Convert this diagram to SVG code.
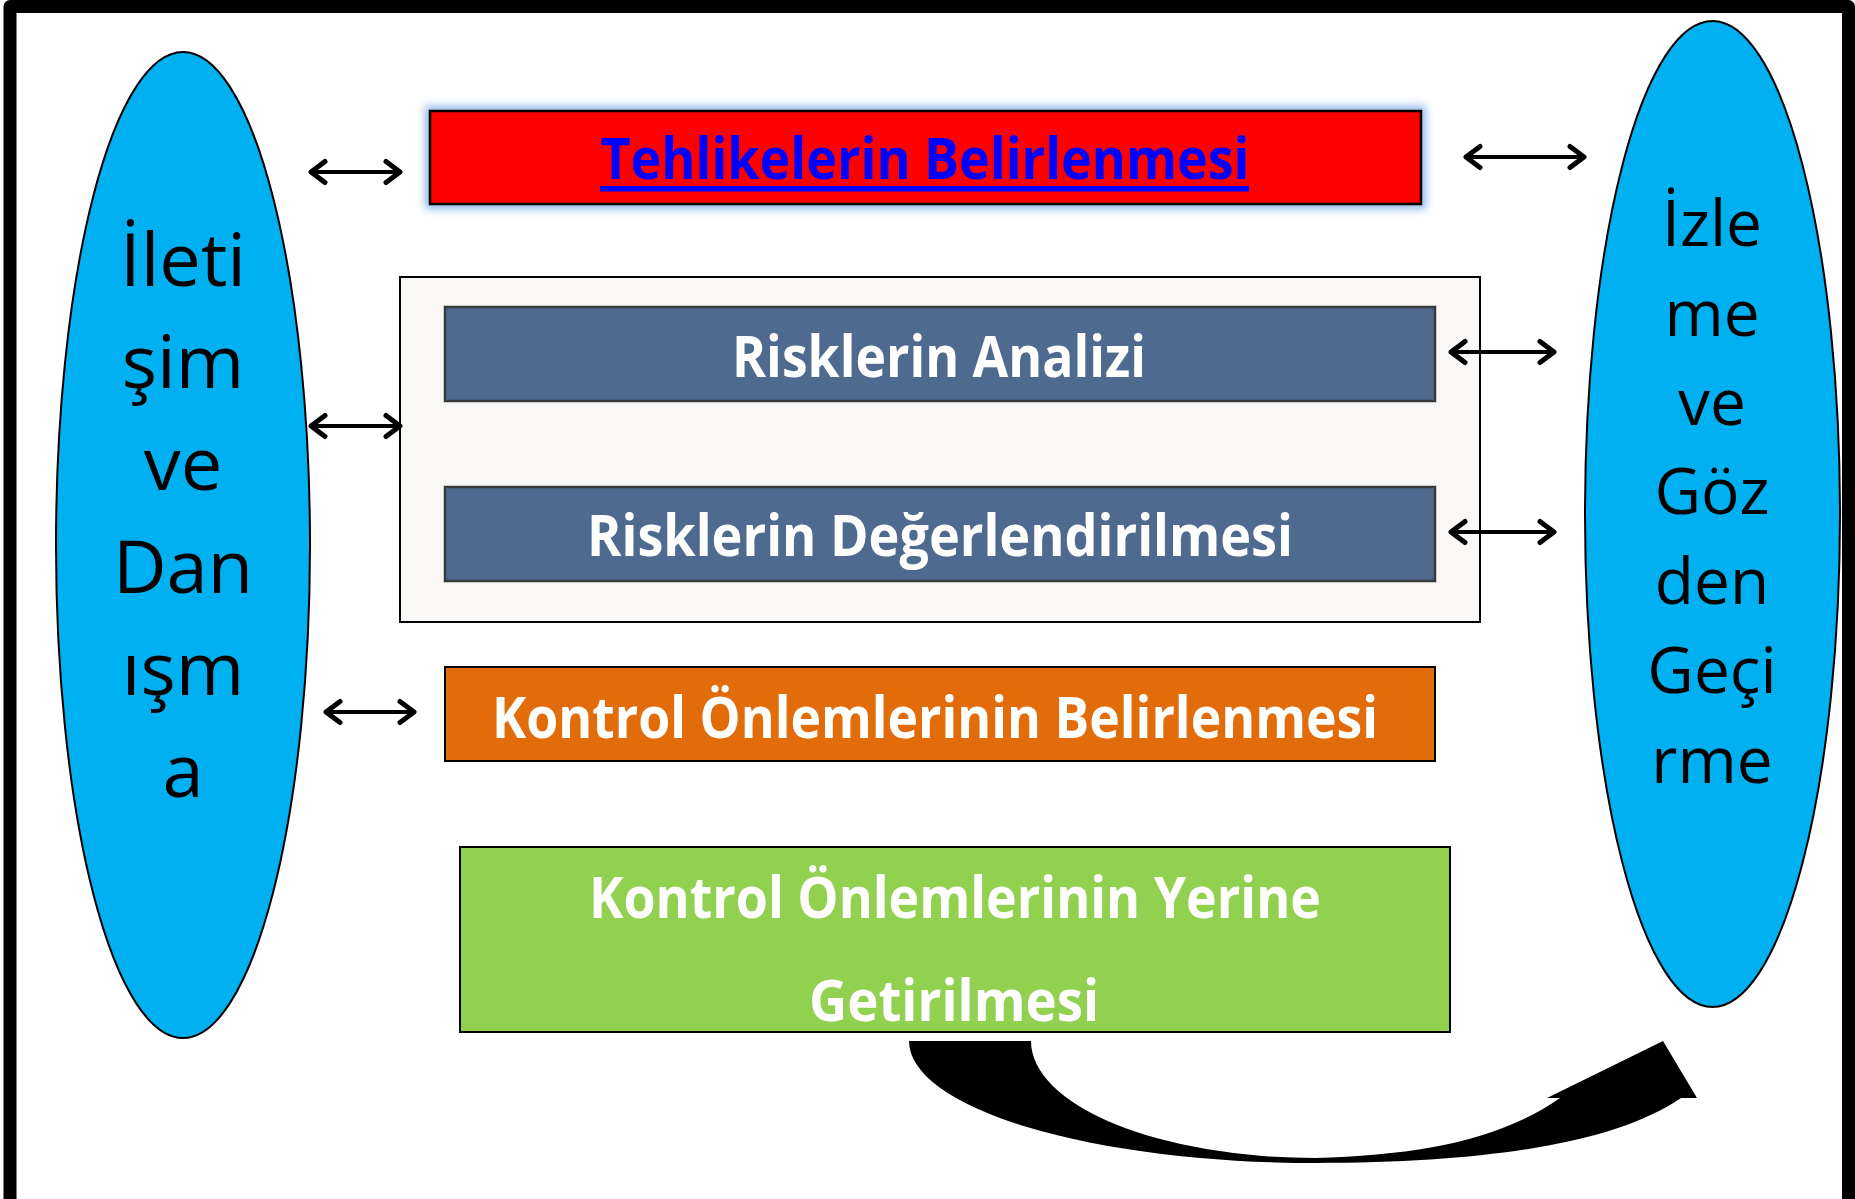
<svg xmlns="http://www.w3.org/2000/svg" width="1855" height="1199" viewBox="0 0 1855 1199">
<style>
.oval{fill:#00B0F0;stroke:#000;stroke-width:2}
.ot{font-family:"Open Sans","Liberation Sans",sans-serif;fill:#000;text-anchor:middle}
.bt{font-family:"Open Sans","Liberation Sans",sans-serif;font-weight:700;font-size:57px;fill:#fff;text-anchor:middle}
.blue{fill:#4E6A8E;stroke:#3A3A3A;stroke-width:2.5}
.arr{stroke:#000;stroke-width:4;fill:none;marker-start:url(#ah);marker-end:url(#ah)}
</style>
<defs>
<marker id="ah" markerUnits="userSpaceOnUse" markerWidth="40" markerHeight="40" refX="0" refY="0" orient="auto-start-reverse" overflow="visible">
<path d="M -14 -10.5 L 0 0 L -14 10.5" fill="none" stroke="#000" stroke-width="5" stroke-linecap="round" stroke-linejoin="round"/>
</marker>
<filter id="glow" x="-5%" y="-40%" width="110%" height="180%">
<feGaussianBlur stdDeviation="4"/>
</filter>
</defs>
<rect x="0" y="0" width="1855" height="1199" fill="#fff"/>
<rect id="frame" x="10" y="6.5" width="1838.5" height="1300" fill="none" stroke="#000" stroke-width="13" stroke-linejoin="round"/>

<g id="iletisim">
<ellipse class="oval" cx="183" cy="545" rx="127" ry="493"/>
<text class="ot" font-size="74"><tspan x="183" y="286">İleti</tspan><tspan x="183" y="388">şim</tspan><tspan x="183" y="490">ve</tspan><tspan x="183" y="593">Dan</tspan><tspan x="183" y="695">ışm</tspan><tspan x="183" y="797">a</tspan></text>
</g>

<g id="izleme">
<ellipse class="oval" cx="1712.5" cy="514" rx="127.5" ry="493"/>
<text class="ot" font-size="64"><tspan x="1712" y="246">İzle</tspan><tspan x="1712" y="336">me</tspan><tspan x="1712" y="425">ve</tspan><tspan x="1712" y="514">Göz</tspan><tspan x="1712" y="604">den</tspan><tspan x="1712" y="693">Geçi</tspan><tspan x="1712" y="783">rme</tspan></text>
</g>

<g id="tehlikeler">
<rect x="430" y="111" width="991" height="93" fill="#8FB8E8" stroke="#8FB8E8" stroke-width="10" filter="url(#glow)"/>
<rect x="430" y="111" width="991" height="93" fill="#FF0000" stroke="#000" stroke-width="2.5"/>
<text class="bt" x="925" y="179" style="fill:#0000FF" textLength="649" lengthAdjust="spacingAndGlyphs">Tehlikelerin Belirlenmesi</text>
<rect x="600" y="186" width="649" height="5.5" fill="#0000FF"/>
</g>

<g id="risk-grup">
<rect x="400" y="277" width="1080" height="345" fill="#F9F8F6" stroke="#000" stroke-width="2"/>
</g>

<g id="analiz">
<rect class="blue" x="445" y="307" width="990" height="94"/>
<text class="bt" x="939" y="377" textLength="414" lengthAdjust="spacingAndGlyphs">Risklerin Analizi</text>
</g>

<g id="degerlendirme">
<rect class="blue" x="445" y="487" width="990" height="94"/>
<text class="bt" x="940" y="556" textLength="706" lengthAdjust="spacingAndGlyphs">Risklerin Değerlendirilmesi</text>
</g>

<g id="kontrol-belirleme">
<rect x="445" y="667" width="990" height="94" fill="#E36C0A" stroke="#000" stroke-width="2"/>
<text class="bt" x="935" y="738" textLength="886" lengthAdjust="spacingAndGlyphs">Kontrol Önlemlerinin Belirlenmesi</text>
</g>

<g id="kontrol-uygulama">
<rect x="460" y="847" width="990" height="185" fill="#92D050" stroke="#000" stroke-width="2"/>
<text class="bt" x="955" y="918" textLength="732" lengthAdjust="spacingAndGlyphs">Kontrol Önlemlerinin Yerine</text>
<text class="bt" x="954" y="1021" textLength="290" lengthAdjust="spacingAndGlyphs">Getirilmesi</text>
</g>

<g id="connectors">
<line class="arr" x1="311" y1="172" x2="400" y2="172"/>
<line class="arr" x1="311" y1="426" x2="400" y2="426"/>
<line class="arr" x1="326" y1="712" x2="414" y2="712"/>
<line class="arr" x1="1466" y1="157" x2="1584" y2="157"/>
<line class="arr" x1="1451" y1="352" x2="1554" y2="352"/>
<line class="arr" x1="1451" y1="532" x2="1554" y2="532"/>
<path id="curved-arrow" d="M 909 1041 L 1031 1041 A 284 117 0 0 0 1315 1158 C 1420 1155 1500 1140 1560 1098 L 1547 1098 L 1663 1041 L 1697 1098 L 1681 1098 C 1620 1140 1500 1163 1315 1163 A 406 122 0 0 1 909 1041 Z" fill="#000"/>
</g>
</svg>
